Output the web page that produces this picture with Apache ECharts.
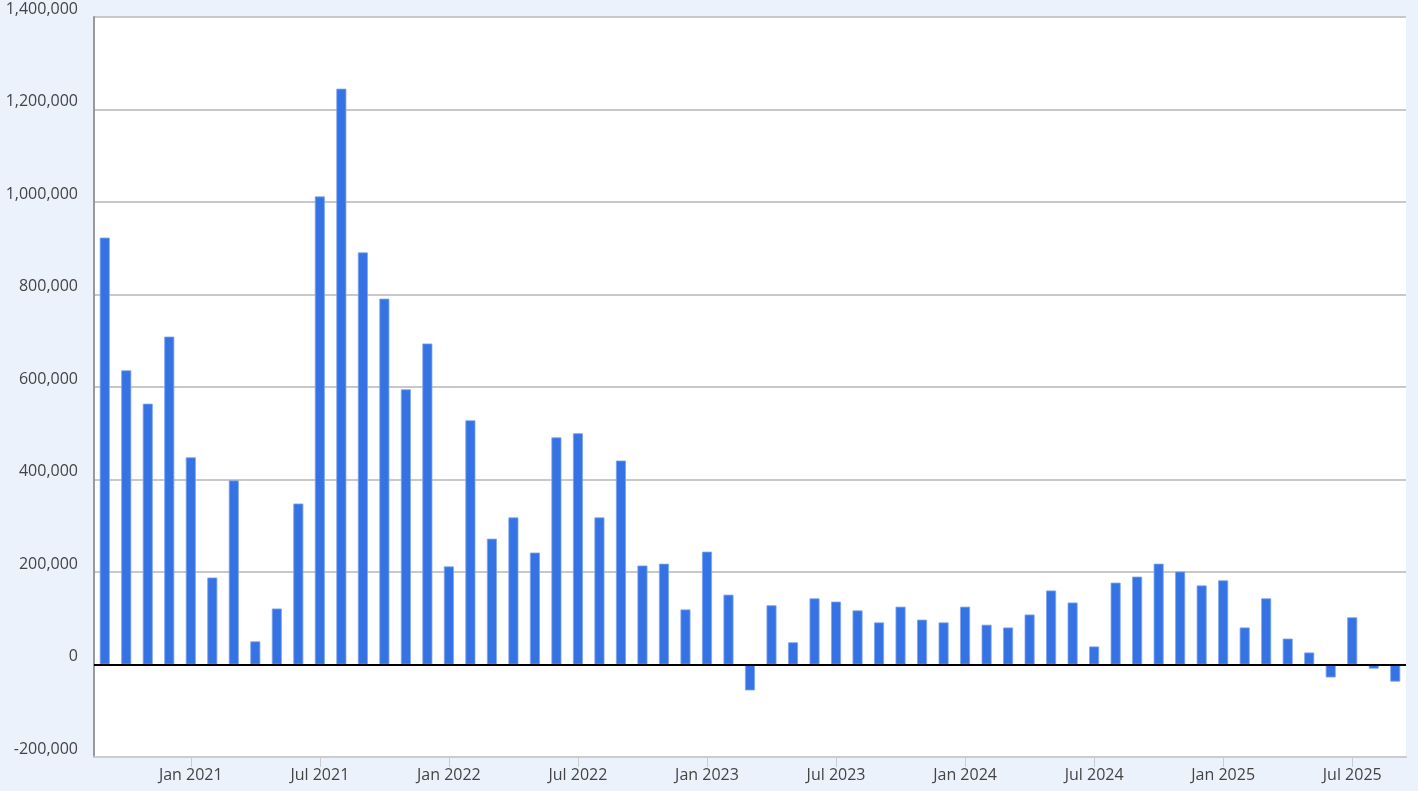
<!DOCTYPE html>
<html>
<head>
<meta charset="utf-8">
<style>
  html, body { margin: 0; padding: 0; background: #ebf2fc; }
  #chart { width: 1418px; height: 791px; }
</style>
<script src="https://cdn.jsdelivr.net/npm/echarts@6/dist/echarts.min.js"></script>
</head>
<body>
<div id="chart"></div>
<script>
const months = [
  'Sep 2020','Oct 2020','Nov 2020','Dec 2020',
  'Jan 2021','Feb 2021','Mar 2021','Apr 2021','May 2021','Jun 2021','Jul 2021','Aug 2021','Sep 2021','Oct 2021','Nov 2021','Dec 2021',
  'Jan 2022','Feb 2022','Mar 2022','Apr 2022','May 2022','Jun 2022','Jul 2022','Aug 2022','Sep 2022','Oct 2022','Nov 2022','Dec 2022',
  'Jan 2023','Feb 2023','Mar 2023','Apr 2023','May 2023','Jun 2023','Jul 2023','Aug 2023','Sep 2023','Oct 2023','Nov 2023','Dec 2023',
  'Jan 2024','Feb 2024','Mar 2024','Apr 2024','May 2024','Jun 2024','Jul 2024','Aug 2024','Sep 2024','Oct 2024','Nov 2024','Dec 2024',
  'Jan 2025','Feb 2025','Mar 2025','Apr 2025','May 2025','Jun 2025','Jul 2025','Aug 2025','Sep 2025'
];
const values = [
  923000, 636000, 564000, 709000,
  448000, 188000, 398000, 50000, 121000, 348000, 1012000, 1245000, 891000, 791000, 595000, 694000,
  212000, 528000, 272000, 318000, 242000, 491000, 500000, 318000, 441000, 214000, 218000, 119000,
  244000, 151000, -56000, 128000, 48000, 143000, 136000, 117000, 91000, 125000, 97000, 91000,
  125000, 86000, 80000, 108000, 160000, 134000, 39000, 177000, 190000, 218000, 201000, 171000,
  182000, 80000, 143000, 56000, 26000, -28000, 102000, -9000, -37000
];
const yTicks = [-200000, 0, 200000, 400000, 600000, 800000, 1000000, 1200000, 1400000];

const chart = echarts.init(document.getElementById('chart'));
const isTickMonth = (i) => /^(Jan|Jul) /.test(months[i]);
const font = '"Open Sans", "Noto Sans", sans-serif';

chart.setOption({
  backgroundColor: '#ebf2fc',
  animation: false,
  grid: {
    left: 94, right: 12, top: 17, bottom: 34,
    show: true, backgroundColor: '#ffffff', borderWidth: 0
  },
  xAxis: {
    type: 'category',
    data: months,
    boundaryGap: true,
    axisLine: { show: true, onZero: false, lineStyle: { color: '#cccccc', width: 2 } },
    axisTick: {
      show: true, alignWithLabel: true, length: 10,
      interval: (i) => isTickMonth(i),
      lineStyle: { color: '#cccccc', width: 1 }
    },
    axisLabel: {
      interval: (i) => isTickMonth(i),
      color: '#444444', fontSize: 16, fontFamily: font, margin: 10
    },
    splitLine: { show: false }
  },
  yAxis: {
    type: 'value',
    min: yTicks[0],
    max: yTicks[yTicks.length - 1],
    interval: yTicks[1] - yTicks[0],
    axisLine: { show: true, lineStyle: { color: '#999999', width: 2 } },
    axisTick: { show: false },
    axisLabel: {
      color: '#444444', fontSize: 16, fontFamily: font, margin: 16,
      verticalAlign: 'bottom',
      formatter: (v) => v.toLocaleString('en-US')
    },
    splitLine: {
      show: true,
      lineStyle: { color: '#c8c8c8', width: 2 }
    }
  },
  series: [{
    type: 'bar',
    data: values,
    barWidth: 10,
    itemStyle: { color: '#3572e3', borderColor: '#7ea5ee', borderWidth: 0.8 },
    markLine: {
      silent: true,
      symbol: ['none', 'none'],
      label: { show: false },
      lineStyle: { color: '#000000', width: 2, type: 'solid' },
      data: [{ yAxis: 0 }]
    }
  }]
});
</script>
</body>
</html>
